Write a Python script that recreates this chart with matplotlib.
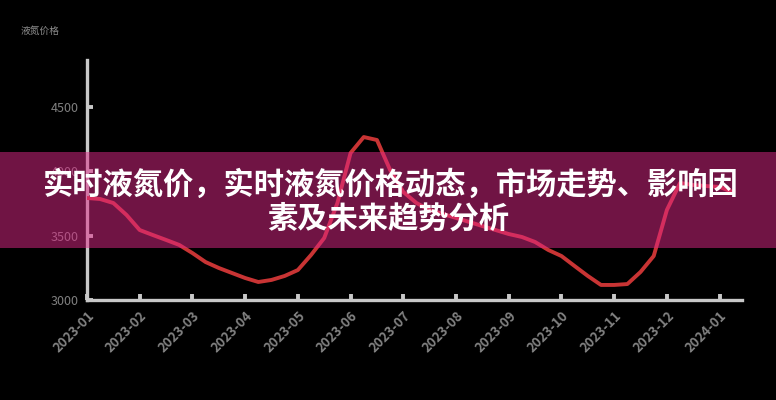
import matplotlib
matplotlib.use('Agg')
import matplotlib.pyplot as plt
from matplotlib.patches import Rectangle

plt.rcParams['font.family'] = ['Noto Sans CJK SC', 'DejaVu Sans']

# weekly liquid nitrogen price (yuan / ton)
prices = [3793, 3785, 3754, 3661, 3544, 3505, 3467, 3428, 3365, 3295,
          3249, 3210, 3171, 3140, 3156, 3187, 3233, 3350, 3482, 3754,
          4143, 4267, 4244, 4011, 3840, 3754, 3700, 3669, 3638, 3607,
          3575, 3544, 3513, 3490, 3451, 3389, 3342, 3264, 3187, 3117,
          3117, 3124, 3218, 3342, 3700, 3910, 3894, 3886, 3879, 3840]
month_labels = ['2023-01', '2023-02', '2023-03', '2023-04', '2023-05',
                '2023-06', '2023-07', '2023-08', '2023-09', '2023-10',
                '2023-11', '2023-12', '2024-01']
y_ticks = [3000, 3500, 4000, 4500]
chart_title = '液氮价格'
banner_lines = ['实时液氮价，实时液氮价格动态，市场走势、影响因',
                '素及未来趋势分析']

fig = plt.figure(figsize=(7.76, 4.0), dpi=100, facecolor='black')
ax = fig.add_axes([0.1121, 0.25, 0.8441, 0.60])
ax.set_facecolor('black')

weeks = list(range(len(prices)))
ax.plot(weeks, prices, color='#c83434', linewidth=2.8, zorder=3)

ax.set_xlim(0, 49.7)
ax.set_ylim(3000, 4866)
ax.set_xticks(weeks[::4])
ax.set_xticklabels(month_labels, rotation=45, ha='right', rotation_mode='anchor')
ax.set_yticks(y_ticks)

for side in ('top', 'right'):
    ax.spines[side].set_visible(False)
for side in ('left', 'bottom'):
    ax.spines[side].set_color('#c8c8c8')
    ax.spines[side].set_linewidth(2.4)
ax.tick_params(direction='in', length=4, width=2.8, color='#c8c8c8',
               labelcolor='#808080', labelsize=9, pad=6)
for lbl in ax.get_xticklabels():
    lbl.set_fontsize(9.5)
    lbl.set_fontweight('bold')

fig.text(0.026, 0.915, chart_title, color='#8c8c8c', fontsize=7)

# translucent banner over the middle of the chart
fig.patches.append(Rectangle((0, 0.38), 1, 0.24, transform=fig.transFigure,
                             facecolor='#e02888', alpha=0.5, zorder=10))
fig.text(0.504, 0.537, banner_lines[0], color='white', fontsize=21.8,
         fontweight='bold', ha='center', va='center', zorder=11)
fig.text(0.5, 0.454, banner_lines[1], color='white', fontsize=21.8,
         fontweight='bold', ha='center', va='center', zorder=11)

fig.savefig('out.png', dpi=100, facecolor='black')
